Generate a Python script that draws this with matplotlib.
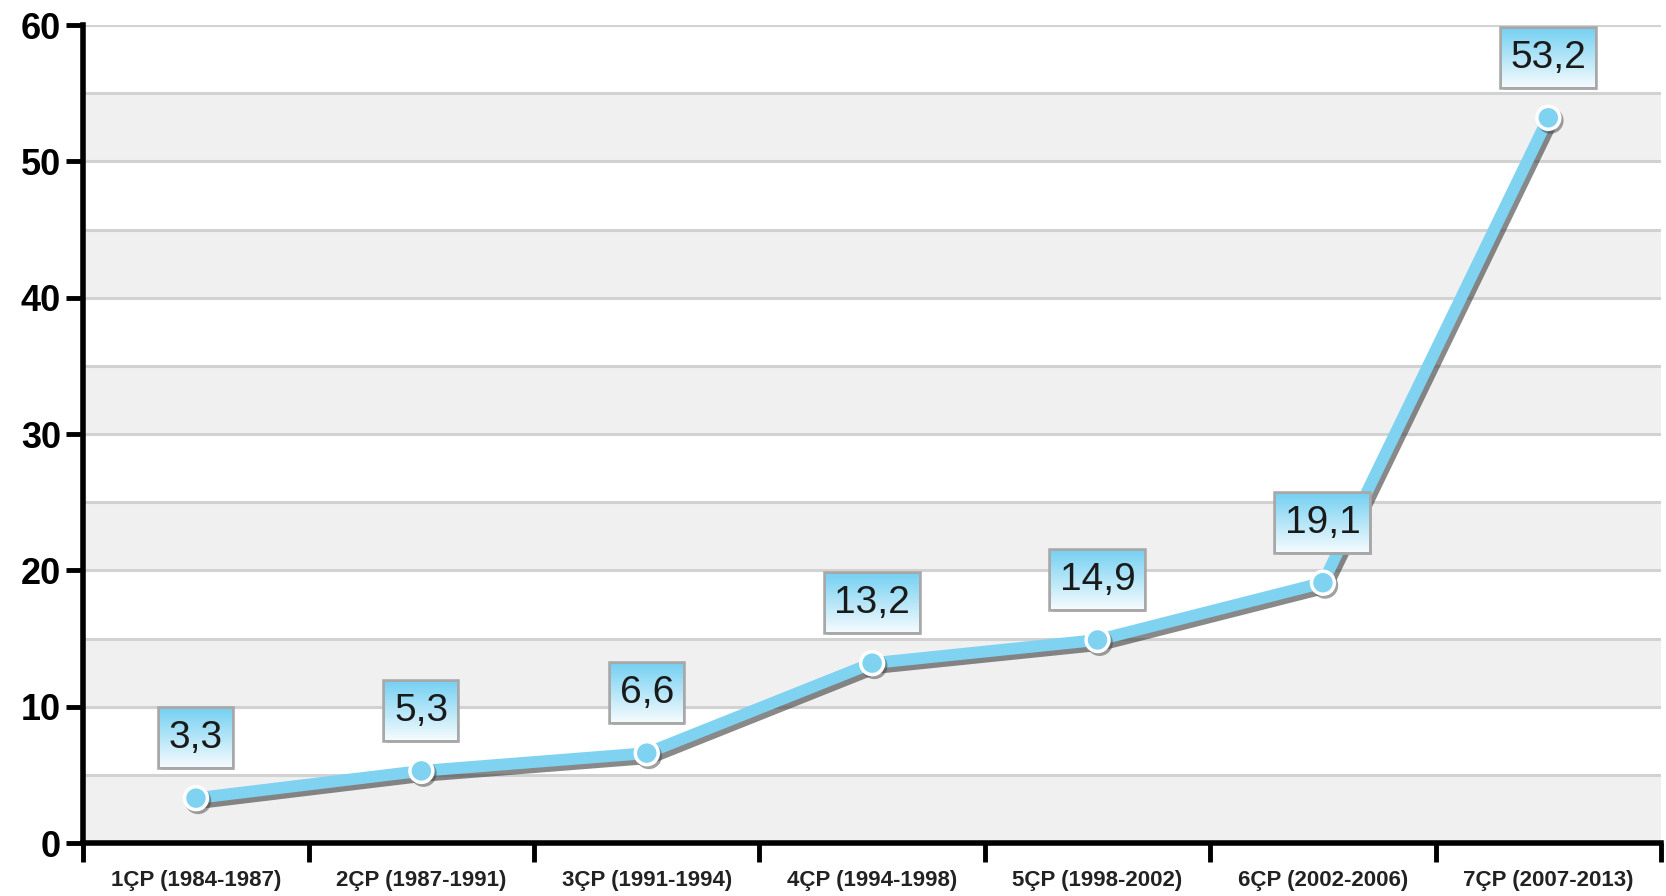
import numpy as np
import matplotlib
matplotlib.use('Agg')
import matplotlib.pyplot as plt
import matplotlib.patheffects as pe
from matplotlib.offsetbox import OffsetImage, AnnotationBbox

categories = ['1ÇP (1984-1987)', '2ÇP (1987-1991)', '3ÇP (1991-1994)', '4ÇP (1994-1998)',
              '5ÇP (1998-2002)', '6ÇP (2002-2006)', '7ÇP (2007-2013)']
values = [3.3, 5.3, 6.6, 13.2, 14.9, 19.1, 53.2]
labels = ['3,3', '5,3', '6,6', '13,2', '14,9', '19,1', '53,2']
yticks = [0, 10, 20, 30, 40, 50, 60]

blue = '#7fd3f1'

plt.rcParams['font.family'] = ['Liberation Sans', 'DejaVu Sans']

fig = plt.figure(figsize=(16.66, 8.96), dpi=100)
ax = fig.add_axes([0.05, 0.059, 0.947, 0.913])

x = np.arange(len(categories))

# alternating bands and grid every 5 units
for lo in range(0, 60, 10):
    ax.axhspan(lo, lo + 5, color='#f0f0f0', zorder=0, lw=0)
for g in range(5, 65, 5):
    ax.axhline(g, color='#d2d2d2', lw=2.2, zorder=1)

shadow = [pe.SimpleLineShadow(offset=(2.5, -3.5), shadow_color='#3a3a3a', alpha=0.6), pe.Normal()]
ax.plot(x, values, color=blue, lw=8.5, solid_capstyle='round', zorder=3, path_effects=shadow)
ax.plot(x, values, 'o', color=blue, markersize=16.5, markeredgecolor='white',
        markeredgewidth=2.5, zorder=4,
        path_effects=[pe.SimpleLineShadow(offset=(1.5, -2), shadow_color='#444444', alpha=0.5), pe.Normal()])

ax.set_xlim(-0.5, 6.5)
ax.set_ylim(0, 60)

# value labels, then gradient boxes sized to the text
texts = []
for xi, v, lab in zip(x, values, labels):
    t = ax.annotate(lab, (xi, v), xytext=(0, 43), textcoords='offset points',
                    ha='center', va='center', fontsize=28, color='#1a1a1a', zorder=6)
    texts.append(t)

fig.canvas.draw()
renderer = fig.canvas.get_renderer()
top = np.array([0x78, 0xd1, 0xf2]) / 255.0
bot = np.array([0xf4, 0xfb, 0xfe]) / 255.0
h = 58
grad = np.linspace(0, 1, h)[:, None, None]
zoom = 72 / 100
for t, xi, v in zip(texts, x, values):
    w = int(t.get_window_extent(renderer).width + 18)
    img = np.repeat(top * (1 - grad) + bot * grad, w, axis=1)
    ab = AnnotationBbox(OffsetImage(img, zoom=zoom), (xi, v), xybox=(0, 43),
                        boxcoords='offset points', frameon=True, pad=0.0,
                        bboxprops=dict(edgecolor='#a8a8a8', lw=4, facecolor='none'),
                        zorder=5)
    ab.patch.set_path_effects([pe.withSimplePatchShadow(offset=(1.5, -2), shadow_rgbFace='#777777', alpha=0.5)])
    ax.add_artist(ab)

ax.set_yticks(yticks)
ax.set_yticklabels([str(t) for t in yticks], fontsize=26, fontweight='bold')
ax.tick_params(axis='y', length=12, width=3.5, pad=4)

ax.set_xticks(np.arange(-0.5, 7, 1))
ax.set_xticklabels([])
ax.tick_params(axis='x', which='major', length=14, width=3.5, direction='out')
ax.set_xticks(x, minor=True)
ax.set_xticklabels(categories, minor=True, fontsize=16, fontweight='bold', color='#222222')
ax.tick_params(axis='x', which='minor', length=0, pad=19)

for s in ['top', 'right']:
    ax.spines[s].set_visible(False)
for s in ['left', 'bottom']:
    ax.spines[s].set_linewidth(4)
    ax.spines[s].set_zorder(7)

fig.savefig('out.png', dpi=100)
